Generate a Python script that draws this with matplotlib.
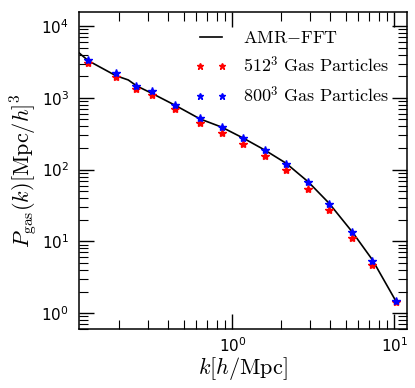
import matplotlib
matplotlib.use("Agg")
from matplotlib import pyplot as plt
from matplotlib.font_manager import FontProperties

# AMR-FFT reference spectrum
k_amr = [0.113, 0.129, 0.191, 0.228, 0.257, 0.318, 0.443, 0.632, 0.861,
         1.17, 1.58, 2.14, 2.94, 3.95, 5.51, 7.31, 10.24]
p_amr = [4260, 3300, 2038, 1775, 1465, 1159, 789, 508, 390,
         274, 188, 123, 67.4, 34.0, 13.4, 5.53, 1.45]

# particle spectra
k_part = [0.129, 0.192, 0.255, 0.321, 0.441, 0.634, 0.860, 1.17, 1.58,
          2.15, 2.94, 3.94, 5.50, 7.28, 10.2]
p_512 = [3034, 1954, 1318, 1109, 694, 443, 327, 228, 155,
         99, 53.8, 27.4, 11.3, 4.66, 1.41]
p_800 = [3370, 2245, 1479, 1260, 796, 520, 390, 277, 188,
         121, 66.8, 33.3, 13.3, 5.35, 1.48]

fig = plt.figure(figsize=(4.15, 3.88), dpi=100)
ax = fig.add_axes([0.190, 0.152, 0.790, 0.817])

ax.plot(k_amr, p_amr, color='black', lw=1.2, label=r'$\mathrm{AMR{-}FFT}$')
ax.plot(k_part, p_512, ls='none', marker='*', ms=6, color='red',
        label=r'$512^3\ \mathrm{Gas\ Particles}$')
ax.plot(k_part, p_800, ls='none', marker='*', ms=6, color='blue',
        label=r'$800^3\ \mathrm{Gas\ Particles}$')

ax.set_xscale('log')
ax.set_yscale('log')
ax.set_xlim(0.113, 11.9)
ax.set_ylim(0.60, 15.7e3)

for s in ax.spines.values():
    s.set_linewidth(1.1)
ax.tick_params(which='both', direction='in', top=True, right=True, labelsize=11)
ax.tick_params(which='major', length=11, width=1.0)
ax.tick_params(which='minor', length=6.5, width=0.8)
ax.tick_params(axis='x', which='major', pad=5)
ax.tick_params(axis='y', which='major', pad=7)

ax.set_xlabel(r'$k[h/\mathrm{Mpc}]$', fontsize=16, math_fontfamily='cm', labelpad=0)
ax.set_ylabel(r'$P_{\mathrm{gas}}(k)[\mathrm{Mpc}/h]^3$', fontsize=16,
              math_fontfamily='cm', labelpad=2)

prop = FontProperties(size=13, math_fontfamily='cm')
ax.legend(loc='upper right', frameon=False, numpoints=2, prop=prop,
          markerscale=0.75, handlelength=1.8, handletextpad=0.9,
          labelspacing=0.5, borderaxespad=0.55)

plt.savefig("out.png", dpi=100)
